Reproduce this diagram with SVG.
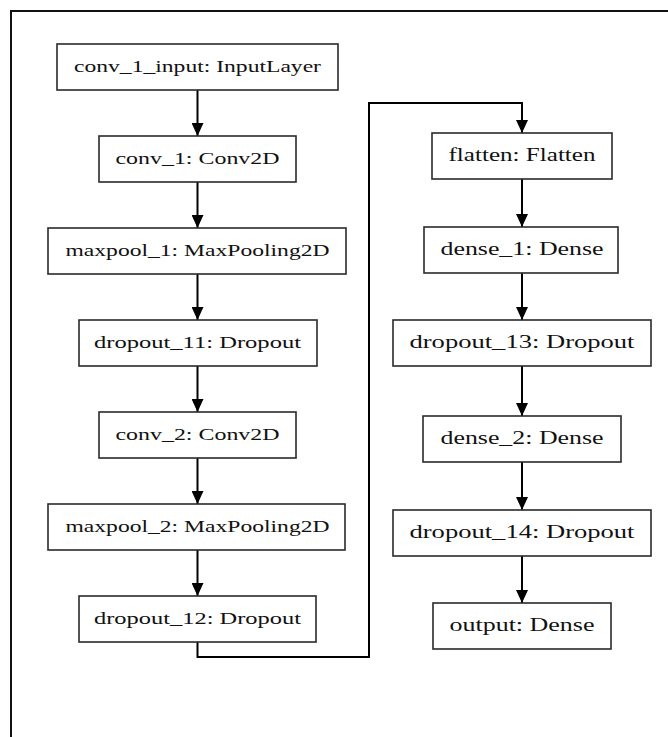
<svg xmlns="http://www.w3.org/2000/svg" width="668" height="737" viewBox="0 0 668 737">
  <style>
    .box { fill: #ffffff; stroke: #2a2a2a; stroke-width: 1.6; }
    .edge { fill: none; stroke: #000000; stroke-width: 2; }
    .frame { fill: none; stroke: #111111; stroke-width: 2; }
  </style>
  <defs>
    <marker id="arrow" viewBox="0 0 13 12" refX="13" refY="6" markerWidth="13" markerHeight="12" markerUnits="userSpaceOnUse" orient="auto">
      <path d="M0,0 L13,6 L0,12 z" fill="#000000"/>
    </marker>
  </defs>
  <rect width="668" height="737" fill="#ffffff"/>
  <path class="frame" d="M11,737 V11 H668"/>

  <g id="connectors">
    <line class="edge" x1="197.5" y1="90" x2="197.5" y2="136" marker-end="url(#arrow)"/>
    <line class="edge" x1="197.5" y1="182" x2="197.5" y2="228" marker-end="url(#arrow)"/>
    <line class="edge" x1="197.5" y1="274" x2="197.5" y2="320" marker-end="url(#arrow)"/>
    <line class="edge" x1="197.5" y1="366" x2="197.5" y2="412" marker-end="url(#arrow)"/>
    <line class="edge" x1="197.5" y1="458" x2="197.5" y2="504" marker-end="url(#arrow)"/>
    <line class="edge" x1="197.5" y1="550" x2="197.5" y2="596" marker-end="url(#arrow)"/>
    <path class="edge" d="M197.5,642 V657 H369 V103 H522 V133" marker-end="url(#arrow)"/>
    <line class="edge" x1="522" y1="179" x2="522" y2="227" marker-end="url(#arrow)"/>
    <line class="edge" x1="522" y1="273" x2="522" y2="320" marker-end="url(#arrow)"/>
    <line class="edge" x1="522" y1="366" x2="522" y2="416" marker-end="url(#arrow)"/>
    <line class="edge" x1="522" y1="462" x2="522" y2="510" marker-end="url(#arrow)"/>
    <line class="edge" x1="522" y1="556" x2="522" y2="603" marker-end="url(#arrow)"/>
  </g>

  <g font-family="Liberation Serif, Times New Roman, serif" font-size="17" fill="#111111" text-anchor="middle">
  <g id="conv_1_input">
    <rect class="box" x="57" y="44" width="281" height="46"/>
    <text x="197.5" y="72" textLength="247" lengthAdjust="spacingAndGlyphs">conv_1_input: InputLayer</text>
  </g>
  <g id="conv_1">
    <rect class="box" x="99" y="136" width="197" height="46"/>
    <text x="197.5" y="164" textLength="164" lengthAdjust="spacingAndGlyphs">conv_1: Conv2D</text>
  </g>
  <g id="maxpool_1">
    <rect class="box" x="48" y="228" width="298" height="46"/>
    <text x="197.5" y="256" textLength="264" lengthAdjust="spacingAndGlyphs">maxpool_1: MaxPooling2D</text>
  </g>
  <g id="dropout_11">
    <rect class="box" x="79" y="320" width="238" height="46"/>
    <text x="197.5" y="348" textLength="207" lengthAdjust="spacingAndGlyphs">dropout_11: Dropout</text>
  </g>
  <g id="conv_2">
    <rect class="box" x="99" y="412" width="197" height="46"/>
    <text x="197.5" y="440" textLength="164" lengthAdjust="spacingAndGlyphs">conv_2: Conv2D</text>
  </g>
  <g id="maxpool_2">
    <rect class="box" x="48" y="504" width="297" height="46"/>
    <text x="197.5" y="532" textLength="264" lengthAdjust="spacingAndGlyphs">maxpool_2: MaxPooling2D</text>
  </g>
  <g id="dropout_12">
    <rect class="box" x="79" y="596" width="237" height="46"/>
    <text x="197.5" y="624" textLength="207" lengthAdjust="spacingAndGlyphs">dropout_12: Dropout</text>
  </g>
  </g>

  <g font-family="Liberation Serif, Times New Roman, serif" font-size="18" fill="#111111" text-anchor="middle">
  <g id="flatten">
    <rect class="box" x="432" y="133" width="180" height="46"/>
    <text x="522" y="161" textLength="147" lengthAdjust="spacingAndGlyphs">flatten: Flatten</text>
  </g>
  <g id="dense_1">
    <rect class="box" x="424" y="227" width="194" height="46"/>
    <text x="522" y="255" textLength="163" lengthAdjust="spacingAndGlyphs">dense_1: Dense</text>
  </g>
  <g id="dropout_13">
    <rect class="box" x="393" y="320" width="258" height="46"/>
    <text x="522" y="348" textLength="225" lengthAdjust="spacingAndGlyphs">dropout_13: Dropout</text>
  </g>
  <g id="dense_2">
    <rect class="box" x="423" y="416" width="198" height="46"/>
    <text x="522" y="444" textLength="163" lengthAdjust="spacingAndGlyphs">dense_2: Dense</text>
  </g>
  <g id="dropout_14">
    <rect class="box" x="393" y="510" width="258" height="46"/>
    <text x="522" y="538" textLength="225" lengthAdjust="spacingAndGlyphs">dropout_14: Dropout</text>
  </g>
  <g id="output">
    <rect class="box" x="433" y="603" width="178" height="46"/>
    <text x="522" y="631" textLength="145" lengthAdjust="spacingAndGlyphs">output: Dense</text>
  </g>
  </g>
</svg>
